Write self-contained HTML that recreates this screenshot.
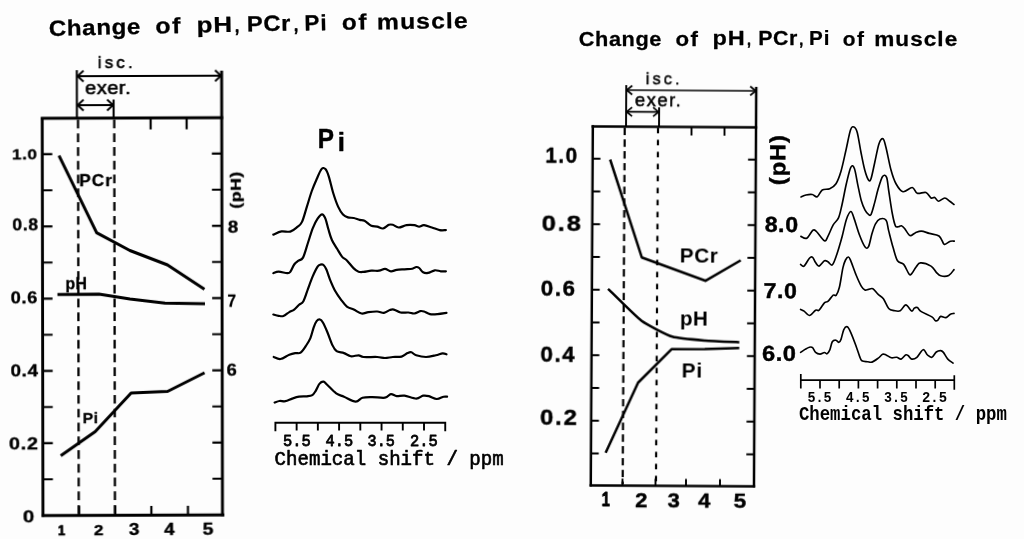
<!DOCTYPE html>
<html><head><meta charset="utf-8"><title>Change of pH, PCr, Pi of muscle</title>
<style>
html,body{margin:0;padding:0;background:#fdfdfd;}
body{width:1024px;height:539px;overflow:hidden;font-family:"Liberation Sans",sans-serif;}
svg{display:block;}
</style></head><body>
<svg width="1024" height="539" viewBox="0 0 1024 539">
<defs><filter id="soft" x="0" y="0" width="1024" height="539" filterUnits="userSpaceOnUse"><feGaussianBlur stdDeviation="0.35"/></filter></defs>
<rect width="1024" height="539" fill="#fdfdfd"/>
<g filter="url(#soft)">
<text transform="translate(49.00 35.90) rotate(-1.25) scale(1.094 1)" font-family="Liberation Sans, sans-serif" font-weight="bold" font-size="22.00" letter-spacing="0.60" text-anchor="start" fill="#050505" stroke="#050505" stroke-width="0.30" stroke-linejoin="round" >Change</text>
<text transform="translate(155.40 33.50) rotate(-1.20) scale(1.132 1)" font-family="Liberation Sans, sans-serif" font-weight="bold" font-size="22.00" letter-spacing="1.50" text-anchor="start" fill="#050505" stroke="#050505" stroke-width="0.30" stroke-linejoin="round" >of</text>
<text transform="translate(196.80 32.50) rotate(-1.20) scale(1.177 1)" font-family="Liberation Sans, sans-serif" font-weight="bold" font-size="22.00" letter-spacing="0.80" text-anchor="start" fill="#050505" stroke="#050505" stroke-width="0.30" stroke-linejoin="round" >pH</text>
<text transform="translate(247.00 31.40) rotate(-1.00) scale(1.077 1)" font-family="Liberation Sans, sans-serif" font-weight="bold" font-size="22.00" letter-spacing="0.60" text-anchor="start" fill="#050505" stroke="#050505" stroke-width="0.30" stroke-linejoin="round" >PCr</text>
<text transform="translate(304.40 30.60) rotate(-0.90) scale(1.014 1)" font-family="Liberation Sans, sans-serif" font-weight="bold" font-size="22.00" letter-spacing="1.20" text-anchor="start" fill="#050505" stroke="#050505" stroke-width="0.30" stroke-linejoin="round" >Pi</text>
<text transform="translate(342.00 29.70) rotate(-0.90) scale(1.101 1)" font-family="Liberation Sans, sans-serif" font-weight="bold" font-size="22.00" letter-spacing="1.50" text-anchor="start" fill="#050505" stroke="#050505" stroke-width="0.30" stroke-linejoin="round" >of</text>
<text transform="translate(377.10 29.40) rotate(-0.90) scale(1.123 1)" font-family="Liberation Sans, sans-serif" font-weight="bold" font-size="22.00" letter-spacing="1.00" text-anchor="start" fill="#050505" stroke="#050505" stroke-width="0.30" stroke-linejoin="round" >muscle</text>
<text transform="translate(234.00 31.90)" font-family="Liberation Sans, sans-serif" font-weight="normal" font-size="22.00" letter-spacing="0.00" text-anchor="start" fill="#050505" stroke="#050505" stroke-width="0.70" stroke-linejoin="round" >,</text>
<text transform="translate(293.00 30.80)" font-family="Liberation Sans, sans-serif" font-weight="normal" font-size="22.00" letter-spacing="0.00" text-anchor="start" fill="#050505" stroke="#050505" stroke-width="0.70" stroke-linejoin="round" >,</text>
<g transform="matrix(1 -0.0034 0.0019 1 -0.60 0.45)">
<g stroke="#050505" fill="none" stroke-linecap="butt">
<path d="M42.6 117 V516.5 M222.1 71 V516.5" stroke-width="2.9"/>
<path d="M41.2 118 H223.6 M41.2 515.3 H224" stroke-width="3"/>
<path d="M42.6 153.90 h10 M222.2 153.90 h-10 M42.6 190.02 h10 M222.2 190.02 h-10 M42.6 226.14 h10 M222.2 226.14 h-10 M42.6 262.26 h10 M222.2 262.26 h-10 M42.6 298.38 h10 M222.2 298.38 h-10 M42.6 334.50 h10 M222.2 334.50 h-10 M42.6 370.62 h10 M222.2 370.62 h-10 M42.6 406.74 h10 M222.2 406.74 h-10 M42.6 442.86 h10 M222.2 442.86 h-10 M42.6 478.98 h10 M222.2 478.98 h-10 " stroke-width="2.2"/>
<path d="M78.70 515 v-9 M114.90 515 v-9 M151.00 515 v-9 M187.60 515 v-9 M151.00 118 v11.5 M187.00 118 v11.5 " stroke-width="2.2"/>
<path d="M78.4 119.5 V514 M114.6 119.5 V514" stroke-width="2.3" stroke-dasharray="8.7 5.07"/>
<path d="M77.3 70 V118 M114 99.5 V118" stroke-width="2.1"/>
<path d="M77.3 76 H222 M77.3 105 H114" stroke-width="1.9"/>
<path d="M84 70.5 L78 76 L84 81.5 M215.5 70.5 L221.5 76 L215.5 81.5 M84 99.5 L78 105 L84 110.5 M107.5 99.5 L113.5 105 L107.5 110.5" stroke-width="1.9"/>
<path d="M59.30 155.30L96.80 232.60L130.00 250.50L167.50 265.00L204.50 289.50" stroke-width="3.0" stroke-linejoin="round"/>
<path d="M57.50 294.30L99.00 294.00L130.00 299.00L165.00 303.20L205.00 304.00" stroke-width="3.0" stroke-linejoin="round"/>
<path d="M60.50 455.50L95.00 431.50L131.00 393.00L167.50 391.50L204.50 373.00" stroke-width="3.0" stroke-linejoin="round"/>
</g>
<text transform="translate(12.20 158.70) scale(1.154 1)" font-family="Liberation Sans, sans-serif" font-weight="bold" font-size="14.80" letter-spacing="0.60" text-anchor="start" fill="#050505" stroke="#050505" stroke-width="0.35" stroke-linejoin="round" >1.0</text>
<text transform="translate(12.60 230.40) scale(1.106 1)" font-family="Liberation Sans, sans-serif" font-weight="bold" font-size="15.80" letter-spacing="0.60" text-anchor="start" fill="#050505" stroke="#050505" stroke-width="0.35" stroke-linejoin="round" >0.8</text>
<text transform="translate(10.80 303.20) scale(1.134 1)" font-family="Liberation Sans, sans-serif" font-weight="bold" font-size="16.00" letter-spacing="0.60" text-anchor="start" fill="#050505" stroke="#050505" stroke-width="0.35" stroke-linejoin="round" >0.6</text>
<text transform="translate(10.40 375.60) scale(1.153 1)" font-family="Liberation Sans, sans-serif" font-weight="bold" font-size="16.30" letter-spacing="0.60" text-anchor="start" fill="#050505" stroke="#050505" stroke-width="0.35" stroke-linejoin="round" >0.4</text>
<text transform="translate(8.80 449.40) scale(1.205 1)" font-family="Liberation Sans, sans-serif" font-weight="bold" font-size="16.50" letter-spacing="0.60" text-anchor="start" fill="#050505" stroke="#050505" stroke-width="0.35" stroke-linejoin="round" >0.2</text>
<text transform="translate(22.40 521.90) scale(1.188 1)" font-family="Liberation Sans, sans-serif" font-weight="bold" font-size="17.30" letter-spacing="0.00" text-anchor="start" fill="#050505" stroke="#050505" stroke-width="0.35" stroke-linejoin="round" >0</text>
<text transform="translate(57.60 535.30) scale(0.889 1)" font-family="Liberation Sans, sans-serif" font-weight="bold" font-size="14.60" letter-spacing="0.00" text-anchor="start" fill="#050505" stroke="#050505" stroke-width="0.75" stroke-linejoin="round" >1</text>
<text transform="translate(93.50 535.30) scale(1.173 1)" font-family="Liberation Sans, sans-serif" font-weight="bold" font-size="14.60" letter-spacing="0.00" text-anchor="start" fill="#050505" stroke="#050505" stroke-width="0.40" stroke-linejoin="round" >2</text>
<text transform="translate(128.50 535.30) scale(1.160 1)" font-family="Liberation Sans, sans-serif" font-weight="bold" font-size="16.30" letter-spacing="0.00" text-anchor="start" fill="#050505" stroke="#050505" stroke-width="0.40" stroke-linejoin="round" >3</text>
<text transform="translate(163.80 535.30) scale(1.149 1)" font-family="Liberation Sans, sans-serif" font-weight="bold" font-size="16.30" letter-spacing="0.00" text-anchor="start" fill="#050505" stroke="#050505" stroke-width="0.40" stroke-linejoin="round" >4</text>
<text transform="translate(202.30 535.30) scale(1.182 1)" font-family="Liberation Sans, sans-serif" font-weight="bold" font-size="16.30" letter-spacing="0.00" text-anchor="start" fill="#050505" stroke="#050505" stroke-width="0.40" stroke-linejoin="round" >5</text>
<text transform="translate(227.90 232.70) scale(1.101 1)" font-family="Liberation Sans, sans-serif" font-weight="bold" font-size="17.00" letter-spacing="0.00" text-anchor="start" fill="#050505" stroke="#050505" stroke-width="0.35" stroke-linejoin="round" >8</text>
<text transform="translate(227.50 306.50) scale(0.966 1)" font-family="Liberation Sans, sans-serif" font-weight="bold" font-size="15.80" letter-spacing="0.00" text-anchor="start" fill="#050505" stroke="#050505" stroke-width="0.35" stroke-linejoin="round" >7</text>
<text transform="translate(226.50 376.10) scale(1.133 1)" font-family="Liberation Sans, sans-serif" font-weight="bold" font-size="16.20" letter-spacing="0.00" text-anchor="start" fill="#050505" stroke="#050505" stroke-width="0.35" stroke-linejoin="round" >6</text>
<text transform="translate(79.40 186.40) scale(1.090 1)" font-family="Liberation Sans, sans-serif" font-weight="bold" font-size="15.80" letter-spacing="1.00" text-anchor="start" fill="#050505" stroke="#050505" stroke-width="0.30" stroke-linejoin="round" >PCr</text>
<text transform="translate(65.50 289.30) scale(1.007 1)" font-family="Liberation Sans, sans-serif" font-weight="bold" font-size="15.80" letter-spacing="0.30" text-anchor="start" fill="#050505" stroke="#050505" stroke-width="0.30" stroke-linejoin="round" >pH</text>
<text transform="translate(82.50 422.60) scale(1.016 1)" font-family="Liberation Sans, sans-serif" font-weight="bold" font-size="15.50" letter-spacing="0.60" text-anchor="start" fill="#050505" stroke="#050505" stroke-width="0.30" stroke-linejoin="round" >Pi</text>
<text transform="translate(240.80 209.00) rotate(-90.00) scale(1.175 1)" font-family="Liberation Sans, sans-serif" font-weight="bold" font-size="15.00" letter-spacing="0.50" text-anchor="start" fill="#050505" stroke="#050505" stroke-width="0.30" stroke-linejoin="round" >(pH)</text>
<text transform="translate(98.30 67.90) scale(1.058 1)" font-family="Liberation Sans, sans-serif" font-weight="normal" font-size="16.00" letter-spacing="3.00" text-anchor="start" fill="#050505" stroke="#050505" stroke-width="0.60" stroke-linejoin="round" >isc.</text>
<text transform="translate(85.50 94.30) scale(1.076 1)" font-family="Liberation Sans, sans-serif" font-weight="normal" font-size="18.60" letter-spacing="0.50" text-anchor="start" fill="#050505" stroke="#050505" stroke-width="0.60" stroke-linejoin="round" >exer.</text>
</g>
<text transform="translate(317.80 147.60) scale(0.880 1)" font-family="Liberation Sans, sans-serif" font-weight="bold" font-size="27.60" letter-spacing="0.00" text-anchor="start" fill="#050505" stroke="#050505" stroke-width="0.50" stroke-linejoin="round" >P</text>
<text transform="translate(337.40 150.90) scale(1.050 1)" font-family="Liberation Sans, sans-serif" font-weight="bold" font-size="26.00" letter-spacing="0.00" text-anchor="start" fill="#050505" stroke="#050505" stroke-width="0.30" stroke-linejoin="round" >i</text>
<g stroke="#050505" fill="none" stroke-width="2.2" stroke-linejoin="round" stroke-linecap="round">
<path d="M273.30 234.60C274.67 234.07 278.67 231.90 281.50 231.40C284.33 230.90 287.70 232.32 290.30 231.60C292.90 230.88 295.15 228.72 297.10 227.10C299.05 225.48 300.37 225.32 302.00 221.90C303.63 218.48 305.27 211.75 306.90 206.60C308.53 201.45 310.18 195.55 311.80 191.00C313.42 186.45 314.98 182.95 316.60 179.30C318.22 175.65 320.03 170.80 321.50 169.10C322.97 167.40 324.19 167.88 325.40 169.10C326.61 170.32 327.45 172.42 328.75 176.40C330.05 180.38 331.64 187.97 333.20 193.00C334.76 198.03 336.47 203.02 338.10 206.60C339.73 210.18 341.37 212.70 343.00 214.50C344.63 216.30 346.11 216.82 347.90 217.40C349.69 217.98 351.80 217.58 353.75 218.00C355.70 218.42 357.81 219.45 359.60 219.90C361.39 220.35 362.55 219.72 364.50 220.70C366.45 221.68 369.18 224.82 371.30 225.80C373.42 226.78 375.25 226.15 377.20 226.60C379.15 227.05 381.05 228.80 383.00 228.50C384.95 228.20 387.27 225.42 388.90 224.80C390.53 224.18 391.17 224.35 392.80 224.80C394.43 225.25 396.42 227.43 398.70 227.50C400.98 227.57 403.90 225.58 406.50 225.20C409.10 224.82 412.18 224.97 414.30 225.20C416.42 225.43 417.58 226.60 419.20 226.60C420.82 226.60 421.88 225.05 424.00 225.20C426.12 225.35 429.28 226.68 431.90 227.50C434.52 228.32 437.37 229.67 439.70 230.10C442.03 230.53 444.87 230.10 445.90 230.10"/>
<path d="M273.30 273.20C274.18 272.95 276.27 271.70 278.60 271.70C280.93 271.70 285.35 273.17 287.30 273.20C289.25 273.23 289.15 273.35 290.30 271.90C291.45 270.45 292.90 266.33 294.20 264.50C295.50 262.67 296.63 262.05 298.10 260.90C299.57 259.75 301.37 260.58 303.00 257.60C304.63 254.62 306.28 247.88 307.90 243.00C309.52 238.12 311.08 232.37 312.70 228.30C314.32 224.23 316.03 220.93 317.60 218.60C319.17 216.27 320.80 214.30 322.10 214.30C323.40 214.30 324.35 216.10 325.40 218.60C326.45 221.10 327.32 225.73 328.40 229.30C329.48 232.87 330.45 236.75 331.90 240.00C333.35 243.25 335.42 246.03 337.10 248.80C338.78 251.57 340.37 254.65 342.00 256.60C343.63 258.55 344.94 258.53 346.90 260.50C348.86 262.47 351.80 266.53 353.75 268.40C355.70 270.27 356.98 271.12 358.60 271.70C360.23 272.28 361.38 272.07 363.50 271.90C365.62 271.73 368.70 270.90 371.30 270.70C373.90 270.50 376.82 271.00 379.10 270.70C381.38 270.40 383.03 268.80 385.00 268.90C386.97 269.00 388.95 271.13 390.90 271.30C392.85 271.47 394.43 270.23 396.70 269.90C398.97 269.57 401.90 269.49 404.50 269.30C407.10 269.11 410.34 269.13 412.30 268.75C414.26 268.37 415.10 267.12 416.25 267.00C417.40 266.88 418.06 267.12 419.20 268.00C420.34 268.88 421.63 271.48 423.10 272.30C424.57 273.12 426.05 273.23 428.00 272.90C429.95 272.57 432.68 270.57 434.80 270.30C436.92 270.03 438.85 271.13 440.70 271.30C442.55 271.47 445.03 271.30 445.90 271.30"/>
<path d="M273.30 314.50C274.18 314.72 276.92 315.55 278.60 315.80C280.28 316.05 281.62 316.62 283.40 316.00C285.18 315.38 287.50 313.17 289.30 312.10C291.10 311.03 292.57 310.83 294.20 309.60C295.83 308.37 297.57 306.10 299.10 304.70C300.63 303.30 301.93 303.80 303.40 301.20C304.87 298.60 306.35 293.23 307.90 289.10C309.45 284.97 311.08 280.15 312.70 276.40C314.32 272.65 316.30 268.57 317.60 266.60C318.90 264.63 319.52 264.87 320.50 264.60C321.48 264.33 322.52 264.18 323.50 265.00C324.48 265.82 325.27 266.95 326.40 269.50C327.53 272.05 328.83 276.72 330.30 280.30C331.77 283.88 333.40 287.75 335.20 291.00C337.00 294.25 339.15 297.20 341.10 299.80C343.05 302.40 344.79 304.97 346.90 306.60C349.01 308.23 351.30 308.45 353.75 309.60C356.20 310.75 359.16 313.08 361.60 313.50C364.04 313.92 365.80 312.43 368.40 312.10C371.00 311.77 374.60 311.37 377.20 311.50C379.80 311.63 381.88 313.15 384.00 312.90C386.12 312.65 388.27 310.55 389.90 310.00C391.53 309.45 392.02 309.18 393.80 309.60C395.58 310.02 398.17 312.02 400.60 312.50C403.03 312.98 406.12 312.33 408.40 312.50C410.68 312.67 412.33 313.73 414.30 313.50C416.27 313.27 418.57 311.43 420.20 311.10C421.83 310.77 422.48 311.00 424.10 311.50C425.72 312.00 427.63 313.67 429.90 314.10C432.17 314.53 434.93 314.30 437.70 314.10C440.47 313.90 445.03 313.10 446.50 312.90"/>
<path d="M273.70 357.00C274.83 357.33 277.90 359.38 280.50 359.00C283.10 358.62 286.85 355.68 289.30 354.70C291.75 353.72 293.32 353.43 295.20 353.10C297.08 352.77 298.82 353.90 300.60 352.70C302.38 351.50 304.27 348.33 305.90 345.90C307.53 343.47 309.10 341.20 310.40 338.10C311.70 335.00 312.67 330.13 313.70 327.30C314.73 324.47 315.55 322.40 316.60 321.10C317.65 319.80 318.95 319.27 320.00 319.50C321.05 319.73 321.67 320.38 322.90 322.50C324.13 324.62 325.83 328.47 327.40 332.20C328.97 335.93 330.77 341.73 332.30 344.90C333.83 348.07 334.65 349.83 336.60 351.20C338.55 352.57 341.63 352.26 344.00 353.10C346.37 353.94 348.37 355.88 350.80 356.25C353.23 356.62 356.48 355.18 358.60 355.30C360.72 355.43 360.40 356.72 363.50 357.00C366.60 357.28 373.62 356.83 377.20 357.00C380.78 357.17 382.40 358.00 385.00 358.00C387.60 358.00 390.03 357.23 392.80 357.00C395.57 356.77 399.15 357.25 401.60 356.60C404.05 355.95 405.87 353.82 407.50 353.10C409.13 352.38 409.94 351.93 411.40 352.30C412.86 352.67 413.82 354.52 416.25 355.30C418.68 356.08 422.74 357.00 426.00 357.00C429.26 357.00 433.03 355.92 435.80 355.30C438.57 354.68 440.82 353.47 442.60 353.30C444.38 353.13 445.85 354.13 446.50 354.30"/>
<path d="M274.60 402.50C275.42 402.25 277.70 401.22 279.50 401.00C281.30 400.78 283.28 401.60 285.40 401.20C287.52 400.80 289.92 399.35 292.20 398.60C294.48 397.85 296.65 397.08 299.10 396.70C301.55 396.32 304.70 396.57 306.90 396.30C309.10 396.03 310.83 396.02 312.30 395.10C313.77 394.18 314.48 392.72 315.70 390.80C316.92 388.88 318.30 385.13 319.60 383.60C320.90 382.07 322.20 381.37 323.50 381.60C324.80 381.83 325.28 383.03 327.40 385.00C329.52 386.97 333.43 391.45 336.20 393.40C338.97 395.35 340.75 395.33 344.00 396.70C347.25 398.07 352.62 401.43 355.70 401.60C358.78 401.77 359.73 398.45 362.50 397.70C365.27 396.95 368.55 397.10 372.30 397.10C376.05 397.10 381.90 398.20 385.00 397.70C388.10 397.20 388.95 394.37 390.90 394.10C392.85 393.83 394.43 395.83 396.70 396.10C398.97 396.37 401.24 395.28 404.50 395.70C407.76 396.12 413.15 398.60 416.25 398.60C419.35 398.60 420.99 396.12 423.10 395.70C425.21 395.28 426.62 395.55 428.90 396.10C431.18 396.65 434.35 398.90 436.80 399.00C439.25 399.10 441.88 397.08 443.60 396.70C445.32 396.32 446.52 396.70 447.10 396.70"/>
</g>
<g stroke="#050505" fill="none" stroke-width="1.9">
<path d="M274.5 422.7 H446.2 M275.40 422 v9.2 M296.63 422 v8.5 M317.86 422 v8.5 M339.09 422 v8.5 M360.32 422 v8.5 M381.55 422 v8.5 M402.78 422 v8.5 M424.01 422 v8.5 M445.24 422 v9.2 "/>
</g>
<text transform="translate(283.10 446.20) scale(0.895 1)" font-family="Liberation Mono, monospace" font-weight="normal" font-size="17.20" letter-spacing="0.00" text-anchor="start" fill="#050505" stroke="#050505" stroke-width="0.85" stroke-linejoin="round" >5.5</text>
<text transform="translate(325.60 446.20) scale(0.889 1)" font-family="Liberation Mono, monospace" font-weight="normal" font-size="17.20" letter-spacing="0.00" text-anchor="start" fill="#050505" stroke="#050505" stroke-width="0.85" stroke-linejoin="round" >4.5</text>
<text transform="translate(367.60 446.20) scale(0.879 1)" font-family="Liberation Mono, monospace" font-weight="normal" font-size="17.20" letter-spacing="0.00" text-anchor="start" fill="#050505" stroke="#050505" stroke-width="0.85" stroke-linejoin="round" >3.5</text>
<text transform="translate(410.10 446.20) scale(0.895 1)" font-family="Liberation Mono, monospace" font-weight="normal" font-size="17.20" letter-spacing="0.00" text-anchor="start" fill="#050505" stroke="#050505" stroke-width="0.85" stroke-linejoin="round" >2.5</text>
<text transform="translate(274.60 465.00) scale(0.965 1)" font-family="Liberation Mono, monospace" font-weight="normal" font-size="19.80" letter-spacing="0.00" text-anchor="start" fill="#050505" stroke="#050505" stroke-width="0.65" stroke-linejoin="round" >Chemical shift / ppm</text>
<text transform="translate(578.80 45.70) scale(1.111 1)" font-family="Liberation Sans, sans-serif" font-weight="bold" font-size="19.60" letter-spacing="0.50" text-anchor="start" fill="#050505" stroke="#050505" stroke-width="0.25" stroke-linejoin="round" >Change</text>
<text transform="translate(675.50 45.50) scale(1.134 1)" font-family="Liberation Sans, sans-serif" font-weight="bold" font-size="19.60" letter-spacing="1.30" text-anchor="start" fill="#050505" stroke="#050505" stroke-width="0.25" stroke-linejoin="round" >of</text>
<text transform="translate(712.60 45.30) scale(1.199 1)" font-family="Liberation Sans, sans-serif" font-weight="bold" font-size="19.60" letter-spacing="0.70" text-anchor="start" fill="#050505" stroke="#050505" stroke-width="0.25" stroke-linejoin="round" >pH</text>
<text transform="translate(758.20 45.10) scale(1.091 1)" font-family="Liberation Sans, sans-serif" font-weight="bold" font-size="19.60" letter-spacing="0.50" text-anchor="start" fill="#050505" stroke="#050505" stroke-width="0.25" stroke-linejoin="round" >PCr</text>
<text transform="translate(809.00 45.30) scale(1.051 1)" font-family="Liberation Sans, sans-serif" font-weight="bold" font-size="19.60" letter-spacing="1.00" text-anchor="start" fill="#050505" stroke="#050505" stroke-width="0.25" stroke-linejoin="round" >Pi</text>
<text transform="translate(842.80 45.60) scale(1.063 1)" font-family="Liberation Sans, sans-serif" font-weight="bold" font-size="19.60" letter-spacing="1.30" text-anchor="start" fill="#050505" stroke="#050505" stroke-width="0.25" stroke-linejoin="round" >of</text>
<text transform="translate(874.20 45.90) scale(1.153 1)" font-family="Liberation Sans, sans-serif" font-weight="bold" font-size="19.60" letter-spacing="0.90" text-anchor="start" fill="#050505" stroke="#050505" stroke-width="0.25" stroke-linejoin="round" >muscle</text>
<text transform="translate(746.30 45.40)" font-family="Liberation Sans, sans-serif" font-weight="normal" font-size="19.60" letter-spacing="0.00" text-anchor="start" fill="#050505" stroke="#050505" stroke-width="0.60" stroke-linejoin="round" >,</text>
<text transform="translate(798.60 45.30)" font-family="Liberation Sans, sans-serif" font-weight="normal" font-size="19.60" letter-spacing="0.00" text-anchor="start" fill="#050505" stroke="#050505" stroke-width="0.60" stroke-linejoin="round" >,</text>
<g transform="translate(0 0.4) rotate(0.33 673 306)">
<g stroke="#050505" fill="none">
<path d="M591.8 125.3 V486.6 M755 86 V486.6" stroke-width="2.5"/>
<path d="M590.6 126.5 H756.2 M590.6 485.4 H756.2" stroke-width="2.5"/>
<path d="M591.8 158.80 h7.8 M755 158.80 h-7.8 M591.8 191.55 h7.8 M755 191.55 h-7.8 M591.8 224.30 h7.8 M755 224.30 h-7.8 M591.8 257.05 h7.8 M755 257.05 h-7.8 M591.8 289.80 h7.8 M755 289.80 h-7.8 M591.8 322.55 h7.8 M755 322.55 h-7.8 M591.8 355.30 h7.8 M755 355.30 h-7.8 M591.8 388.05 h7.8 M755 388.05 h-7.8 M591.8 420.80 h7.8 M755 420.80 h-7.8 M591.8 453.55 h7.8 M755 453.55 h-7.8 " stroke-width="1.9"/>
<path d="M623.50 485.4 v-7 M656.50 485.4 v-7 M687.00 485.4 v-7 M721.00 485.4 v-7 M690.50 126.5 v8.5 M723.50 126.5 v8.5 " stroke-width="1.9"/>
<path d="M623.7 127.5 V484" stroke-width="2.2" stroke-dasharray="7.4 4.4"/>
<path d="M657 127.5 V484" stroke-width="2.2" stroke-dasharray="5.6 6.4"/>
<path d="M625 85 V126.5 M658 107 V126.5" stroke-width="1.9"/>
<path d="M625 90 H755 M625 111.7 H658" stroke-width="1.7"/>
<path d="M631 85.5 L625.5 90 L631 94.5 M749 85.5 L754.5 90 L749 94.5 M631 107.2 L625.5 111.7 L631 116.2 M652 107.2 L657.5 111.7 L652 116.2" stroke-width="1.7"/>
<path d="M609.30 159.50L641.50 257.20L705.50 280.20L740.50 259.50" stroke-width="2.5" stroke-linejoin="round"/>
<path d="M608.00 288.80C610.79 291.44 636.12 316.54 641.50 320.50C646.88 324.46 667.21 334.68 672.50 336.30C677.79 337.93 699.42 339.57 705.00 340.00C710.58 340.43 736.62 341.38 739.50 341.50" stroke-width="2.5" stroke-linejoin="round"/>
<path d="M606.50 452.80L638.50 382.50L671.80 348.80L705.00 348.50L739.50 347.30" stroke-width="2.5" stroke-linejoin="round"/>
</g>
<text transform="translate(544.40 163.40) scale(0.961 1)" font-family="Liberation Sans, sans-serif" font-weight="bold" font-size="21.50" letter-spacing="1.60" text-anchor="start" fill="#050505" stroke="#050505" stroke-width="0.45" stroke-linejoin="round" >1.0</text>
<text transform="translate(541.20 231.20) scale(1.184 1)" font-family="Liberation Sans, sans-serif" font-weight="bold" font-size="21.50" letter-spacing="1.60" text-anchor="start" fill="#050505" stroke="#050505" stroke-width="0.45" stroke-linejoin="round" >0.8</text>
<text transform="translate(540.70 295.60) scale(1.036 1)" font-family="Liberation Sans, sans-serif" font-weight="bold" font-size="21.50" letter-spacing="1.60" text-anchor="start" fill="#050505" stroke="#050505" stroke-width="0.45" stroke-linejoin="round" >0.6</text>
<text transform="translate(540.70 362.10) scale(1.036 1)" font-family="Liberation Sans, sans-serif" font-weight="bold" font-size="21.50" letter-spacing="1.60" text-anchor="start" fill="#050505" stroke="#050505" stroke-width="0.45" stroke-linejoin="round" >0.4</text>
<text transform="translate(540.70 425.20) scale(1.112 1)" font-family="Liberation Sans, sans-serif" font-weight="bold" font-size="21.50" letter-spacing="1.60" text-anchor="start" fill="#050505" stroke="#050505" stroke-width="0.45" stroke-linejoin="round" >0.2</text>
<text transform="translate(602.70 505.90) scale(0.709 1)" font-family="Liberation Sans, sans-serif" font-weight="bold" font-size="21.00" letter-spacing="0.00" text-anchor="start" fill="#050505" stroke="#050505" stroke-width="0.80" stroke-linejoin="round" >1</text>
<text transform="translate(636.30 507.20) scale(1.051 1)" font-family="Liberation Sans, sans-serif" font-weight="bold" font-size="21.00" letter-spacing="0.00" text-anchor="start" fill="#050505" stroke="#050505" stroke-width="0.45" stroke-linejoin="round" >2</text>
<text transform="translate(668.80 507.20) scale(1.043 1)" font-family="Liberation Sans, sans-serif" font-weight="bold" font-size="21.00" letter-spacing="0.00" text-anchor="start" fill="#050505" stroke="#050505" stroke-width="0.45" stroke-linejoin="round" >3</text>
<text transform="translate(699.20 507.00) scale(1.043 1)" font-family="Liberation Sans, sans-serif" font-weight="bold" font-size="21.00" letter-spacing="0.00" text-anchor="start" fill="#050505" stroke="#050505" stroke-width="0.45" stroke-linejoin="round" >4</text>
<text transform="translate(734.80 507.40) scale(1.077 1)" font-family="Liberation Sans, sans-serif" font-weight="bold" font-size="21.00" letter-spacing="0.00" text-anchor="start" fill="#050505" stroke="#050505" stroke-width="0.45" stroke-linejoin="round" >5</text>
<text transform="translate(764.20 230.90) scale(1.074 1)" font-family="Liberation Sans, sans-serif" font-weight="bold" font-size="21.50" letter-spacing="0.60" text-anchor="start" fill="#050505" stroke="#050505" stroke-width="0.45" stroke-linejoin="round" >8.0</text>
<text transform="translate(763.40 297.10) scale(1.074 1)" font-family="Liberation Sans, sans-serif" font-weight="bold" font-size="21.50" letter-spacing="0.60" text-anchor="start" fill="#050505" stroke="#050505" stroke-width="0.45" stroke-linejoin="round" >7.0</text>
<text transform="translate(762.20 359.80) scale(1.096 1)" font-family="Liberation Sans, sans-serif" font-weight="bold" font-size="21.50" letter-spacing="0.60" text-anchor="start" fill="#050505" stroke="#050505" stroke-width="0.45" stroke-linejoin="round" >6.0</text>
<text transform="translate(679.50 262.30) scale(0.986 1)" font-family="Liberation Sans, sans-serif" font-weight="bold" font-size="21.00" letter-spacing="0.60" text-anchor="start" fill="#050505" >PCr</text>
<text transform="translate(680.00 324.80) scale(1.009 1)" font-family="Liberation Sans, sans-serif" font-weight="bold" font-size="20.50" letter-spacing="0.40" text-anchor="start" fill="#050505" >pH</text>
<text transform="translate(682.00 377.30) scale(1.041 1)" font-family="Liberation Sans, sans-serif" font-weight="bold" font-size="20.00" letter-spacing="0.80" text-anchor="start" fill="#050505" >Pi</text>
<text transform="translate(784.40 184.20) rotate(-90.00) scale(1.068 1)" font-family="Liberation Sans, sans-serif" font-weight="bold" font-size="22.00" letter-spacing="1.00" text-anchor="start" fill="#050505" stroke="#050505" stroke-width="0.40" stroke-linejoin="round" >(pH)</text>
<text transform="translate(644.50 83.70) scale(0.999 1)" font-family="Liberation Sans, sans-serif" font-weight="normal" font-size="16.50" letter-spacing="3.00" text-anchor="start" fill="#050505" stroke="#050505" stroke-width="0.50" stroke-linejoin="round" >isc.</text>
<text transform="translate(633.75 106.20) scale(1.055 1)" font-family="Liberation Sans, sans-serif" font-weight="normal" font-size="17.50" letter-spacing="1.40" text-anchor="start" fill="#050505" stroke="#050505" stroke-width="0.50" stroke-linejoin="round" >exer.</text>
</g>
<g stroke="#050505" fill="none" stroke-width="1.65" stroke-linejoin="round" stroke-linecap="round">
<path d="M801.00 197.00C801.83 196.67 804.12 195.42 806.00 195.00C807.88 194.58 810.38 194.21 812.25 194.50C814.12 194.79 815.58 197.50 817.25 196.75C818.92 196.00 820.17 191.33 822.25 190.00C824.33 188.67 827.46 189.79 829.75 188.75C832.04 187.71 834.12 186.67 836.00 183.75C837.88 180.83 839.33 176.88 841.00 171.25C842.67 165.62 844.42 156.88 846.00 150.00C847.58 143.12 849.17 133.83 850.50 130.00C851.83 126.17 852.88 126.58 854.00 127.00C855.12 127.42 856.08 128.25 857.25 132.50C858.42 136.75 859.75 146.25 861.00 152.50C862.25 158.75 863.50 165.42 864.75 170.00C866.00 174.58 867.46 178.54 868.50 180.00C869.54 181.46 869.96 181.67 871.00 178.75C872.04 175.83 873.42 168.33 874.75 162.50C876.08 156.67 877.62 147.71 879.00 143.75C880.38 139.79 881.83 138.12 883.00 138.75C884.17 139.38 884.67 142.29 886.00 147.50C887.33 152.71 889.33 163.96 891.00 170.00C892.67 176.04 894.00 180.12 896.00 183.75C898.00 187.38 900.29 191.12 903.00 191.75C905.71 192.38 909.88 187.25 912.25 187.50C914.62 187.75 914.96 192.42 917.25 193.25C919.54 194.08 923.71 191.71 926.00 192.50C928.29 193.29 929.54 197.17 931.00 198.00C932.46 198.83 933.50 196.96 934.75 197.50C936.00 198.04 936.83 201.17 938.50 201.25C940.17 201.33 942.88 198.00 944.75 198.00C946.62 198.00 948.21 200.17 949.75 201.25C951.29 202.33 953.29 203.96 954.00 204.50"/>
<path d="M800.90 236.40C801.88 236.70 804.75 239.23 806.75 238.20C808.75 237.17 811.29 231.32 812.90 230.20C814.51 229.08 814.48 229.73 816.40 231.50C818.32 233.27 822.48 239.98 824.40 240.80C826.32 241.62 826.43 239.05 827.90 236.40C829.37 233.75 831.43 227.98 833.20 224.90C834.97 221.82 837.03 221.27 838.50 217.90C839.97 214.53 840.68 210.43 842.00 204.70C843.32 198.97 844.93 189.73 846.40 183.50C847.87 177.27 849.47 169.80 850.80 167.30C852.13 164.80 853.22 165.50 854.40 168.50C855.58 171.50 856.73 179.87 857.90 185.30C859.07 190.73 860.23 197.00 861.40 201.10C862.57 205.20 863.72 207.68 864.90 209.90C866.08 212.12 867.47 213.65 868.50 214.40C869.53 215.15 870.08 216.32 871.10 214.40C872.12 212.48 873.42 207.17 874.60 202.90C875.78 198.63 876.87 193.22 878.20 188.80C879.53 184.38 881.20 178.32 882.60 176.40C884.00 174.48 885.58 174.95 886.60 177.30C887.62 179.65 887.75 184.47 888.70 190.50C889.65 196.53 891.18 207.62 892.30 213.50C893.42 219.38 894.38 223.60 895.40 225.80C896.42 228.00 897.40 226.70 898.40 226.70C899.40 226.70 900.37 225.50 901.40 225.80C902.43 226.10 903.18 226.88 904.60 228.50C906.02 230.12 908.13 234.77 909.90 235.50C911.67 236.23 913.30 233.63 915.20 232.90C917.10 232.17 918.95 231.02 921.30 231.10C923.65 231.18 926.35 232.58 929.30 233.40C932.25 234.22 936.65 234.33 939.00 236.00C941.35 237.67 942.38 242.02 943.40 243.40C944.42 244.78 943.93 244.65 945.10 244.30C946.27 243.95 948.87 241.83 950.40 241.30C951.93 240.77 953.65 241.13 954.30 241.10"/>
<path d="M800.60 264.40C801.18 264.68 802.63 267.13 804.10 266.10C805.57 265.07 807.98 259.67 809.40 258.20C810.82 256.73 811.57 256.57 812.60 257.30C813.63 258.03 814.52 261.13 815.60 262.60C816.68 264.07 817.63 266.40 819.10 266.10C820.57 265.80 822.93 261.53 824.40 260.80C825.87 260.07 826.58 261.02 827.90 261.70C829.22 262.38 830.83 266.07 832.30 264.90C833.77 263.73 835.08 259.35 836.70 254.70C838.32 250.05 840.38 242.88 842.00 237.00C843.62 231.12 844.93 223.65 846.40 219.40C847.87 215.15 849.57 211.80 850.80 211.50C852.03 211.20 852.33 213.63 853.80 217.60C855.27 221.57 857.75 230.45 859.60 235.30C861.45 240.15 863.42 244.80 864.90 246.70C866.38 248.60 867.32 248.90 868.50 246.70C869.68 244.50 870.83 237.32 872.00 233.50C873.17 229.68 874.18 226.22 875.50 223.80C876.82 221.38 878.13 219.58 879.90 219.00C881.67 218.42 884.63 218.32 886.10 220.30C887.57 222.28 887.53 226.35 888.70 230.90C889.87 235.45 891.63 242.62 893.10 247.60C894.57 252.58 895.73 258.00 897.50 260.80C899.27 263.60 901.78 262.20 903.70 264.40C905.62 266.60 907.67 272.45 909.00 274.00C910.33 275.55 910.52 274.87 911.70 273.70C912.88 272.53 914.63 268.80 916.10 267.00C917.57 265.20 918.02 263.05 920.50 262.90C922.98 262.75 928.37 264.53 931.00 266.10C933.63 267.67 934.68 270.68 936.30 272.30C937.92 273.92 938.63 275.27 940.70 275.80C942.77 276.33 946.48 276.53 948.70 275.50C950.92 274.47 953.12 270.58 954.00 269.60"/>
<path d="M800.60 309.40C801.18 309.68 802.63 310.08 804.10 311.10C805.57 312.12 807.48 315.65 809.40 315.50C811.32 315.35 813.98 311.08 815.60 310.20C817.22 309.32 817.63 311.43 819.10 310.20C820.57 308.97 822.93 304.27 824.40 302.80C825.87 301.33 826.43 302.67 827.90 301.40C829.37 300.13 831.82 296.23 833.20 295.20C834.58 294.17 835.17 296.52 836.20 295.20C837.23 293.88 838.28 291.85 839.40 287.30C840.52 282.75 841.88 272.45 842.90 267.90C843.92 263.35 844.57 261.82 845.50 260.00C846.43 258.18 847.62 256.85 848.50 257.00C849.38 257.15 849.53 257.90 850.80 260.90C852.07 263.90 854.33 270.75 856.10 275.00C857.87 279.25 859.93 283.90 861.40 286.40C862.87 288.90 863.72 289.50 864.90 290.00C866.08 290.50 867.17 289.62 868.50 289.40C869.83 289.18 871.28 287.87 872.90 288.70C874.52 289.53 876.45 292.72 878.20 294.40C879.95 296.08 881.65 296.45 883.40 298.80C885.15 301.15 886.93 306.53 888.70 308.50C890.47 310.47 892.08 310.22 894.00 310.60C895.92 310.98 898.23 311.75 900.20 310.80C902.17 309.85 903.88 304.85 905.80 304.90C907.72 304.95 910.28 310.57 911.70 311.10C913.12 311.63 913.37 308.68 914.30 308.10C915.23 307.52 916.13 307.02 917.30 307.60C918.47 308.18 918.87 310.05 921.30 311.60C923.73 313.15 929.53 315.37 931.90 316.90C934.27 318.43 934.47 320.30 935.50 320.80C936.53 321.30 937.23 320.63 938.10 319.90C938.97 319.17 939.38 316.78 940.70 316.40C942.02 316.02 944.38 317.95 946.00 317.60C947.62 317.25 949.07 315.00 950.40 314.30C951.73 313.60 953.40 313.55 954.00 313.40"/>
<path d="M800.60 352.40C801.33 351.90 803.53 350.27 805.00 349.40C806.47 348.53 808.13 347.50 809.40 347.20C810.67 346.90 811.57 346.73 812.60 347.60C813.63 348.47 814.37 351.32 815.60 352.40C816.83 353.48 818.53 354.08 820.00 354.10C821.47 354.12 823.23 352.55 824.40 352.50C825.57 352.45 826.12 354.18 827.00 353.80C827.88 353.42 828.82 352.20 829.70 350.20C830.58 348.20 831.28 343.47 832.30 341.80C833.32 340.13 834.68 340.12 835.80 340.20C836.92 340.28 838.12 342.48 839.00 342.30C839.88 342.12 840.30 341.22 841.10 339.10C841.90 336.98 842.77 331.65 843.80 329.60C844.83 327.55 846.13 326.30 847.30 326.80C848.47 327.30 849.33 329.37 850.80 332.60C852.27 335.83 854.63 342.23 856.10 346.20C857.57 350.17 858.63 353.97 859.60 356.40C860.57 358.83 860.57 359.92 861.90 360.80C863.23 361.68 865.92 361.48 867.60 361.70C869.28 361.92 870.23 362.68 872.00 362.10C873.77 361.52 876.43 359.50 878.20 358.20C879.97 356.90 881.28 354.83 882.60 354.30C883.92 353.77 884.63 354.42 886.10 355.00C887.57 355.58 889.63 357.42 891.40 357.80C893.17 358.18 895.08 357.08 896.70 357.30C898.32 357.52 899.63 359.48 901.10 359.10C902.57 358.72 904.33 355.60 905.50 355.00C906.67 354.40 907.07 354.82 908.10 355.50C909.13 356.18 910.23 358.80 911.70 359.10C913.17 359.40 915.00 358.87 916.90 357.30C918.80 355.73 921.33 350.08 923.10 349.70C924.87 349.32 926.03 353.73 927.50 355.00C928.97 356.27 930.43 357.80 931.90 357.30C933.37 356.80 934.83 353.12 936.30 352.00C937.77 350.88 939.52 350.53 940.70 350.60C941.88 350.67 942.22 350.98 943.40 352.40C944.58 353.82 946.18 357.32 947.80 359.10C949.42 360.88 952.22 362.43 953.10 363.10"/>
</g>
<g stroke="#050505" fill="none" stroke-width="1.7">
<path d="M800 380.2 H955 M800.8 374 V388.5 M954.3 375.2 V389.8 M820.00 380 v8.6 M839.20 380 v8.6 M858.40 380 v8.6 M877.60 380 v8.6 M896.80 380 v8.6 M916.00 380 v8.6 M935.20 380 v8.6 "/>
</g>
<text transform="translate(807.40 401.70) scale(0.878 1)" font-family="Liberation Mono, monospace" font-weight="bold" font-size="15.30" letter-spacing="0.00" text-anchor="start" fill="#050505" >5.5</text>
<text transform="translate(845.70 401.70) scale(0.871 1)" font-family="Liberation Mono, monospace" font-weight="bold" font-size="15.30" letter-spacing="0.00" text-anchor="start" fill="#050505" >4.5</text>
<text transform="translate(884.00 401.70) scale(0.871 1)" font-family="Liberation Mono, monospace" font-weight="bold" font-size="15.30" letter-spacing="0.00" text-anchor="start" fill="#050505" >3.5</text>
<text transform="translate(922.00 401.70) scale(0.907 1)" font-family="Liberation Mono, monospace" font-weight="bold" font-size="15.30" letter-spacing="0.00" text-anchor="start" fill="#050505" >2.5</text>
<text transform="translate(798.90 419.60) scale(0.867 1)" font-family="Liberation Mono, monospace" font-weight="bold" font-size="20.00" letter-spacing="0.00" text-anchor="start" fill="#050505" >Chemical shift / ppm</text>
</g>
</svg>
</body></html>
